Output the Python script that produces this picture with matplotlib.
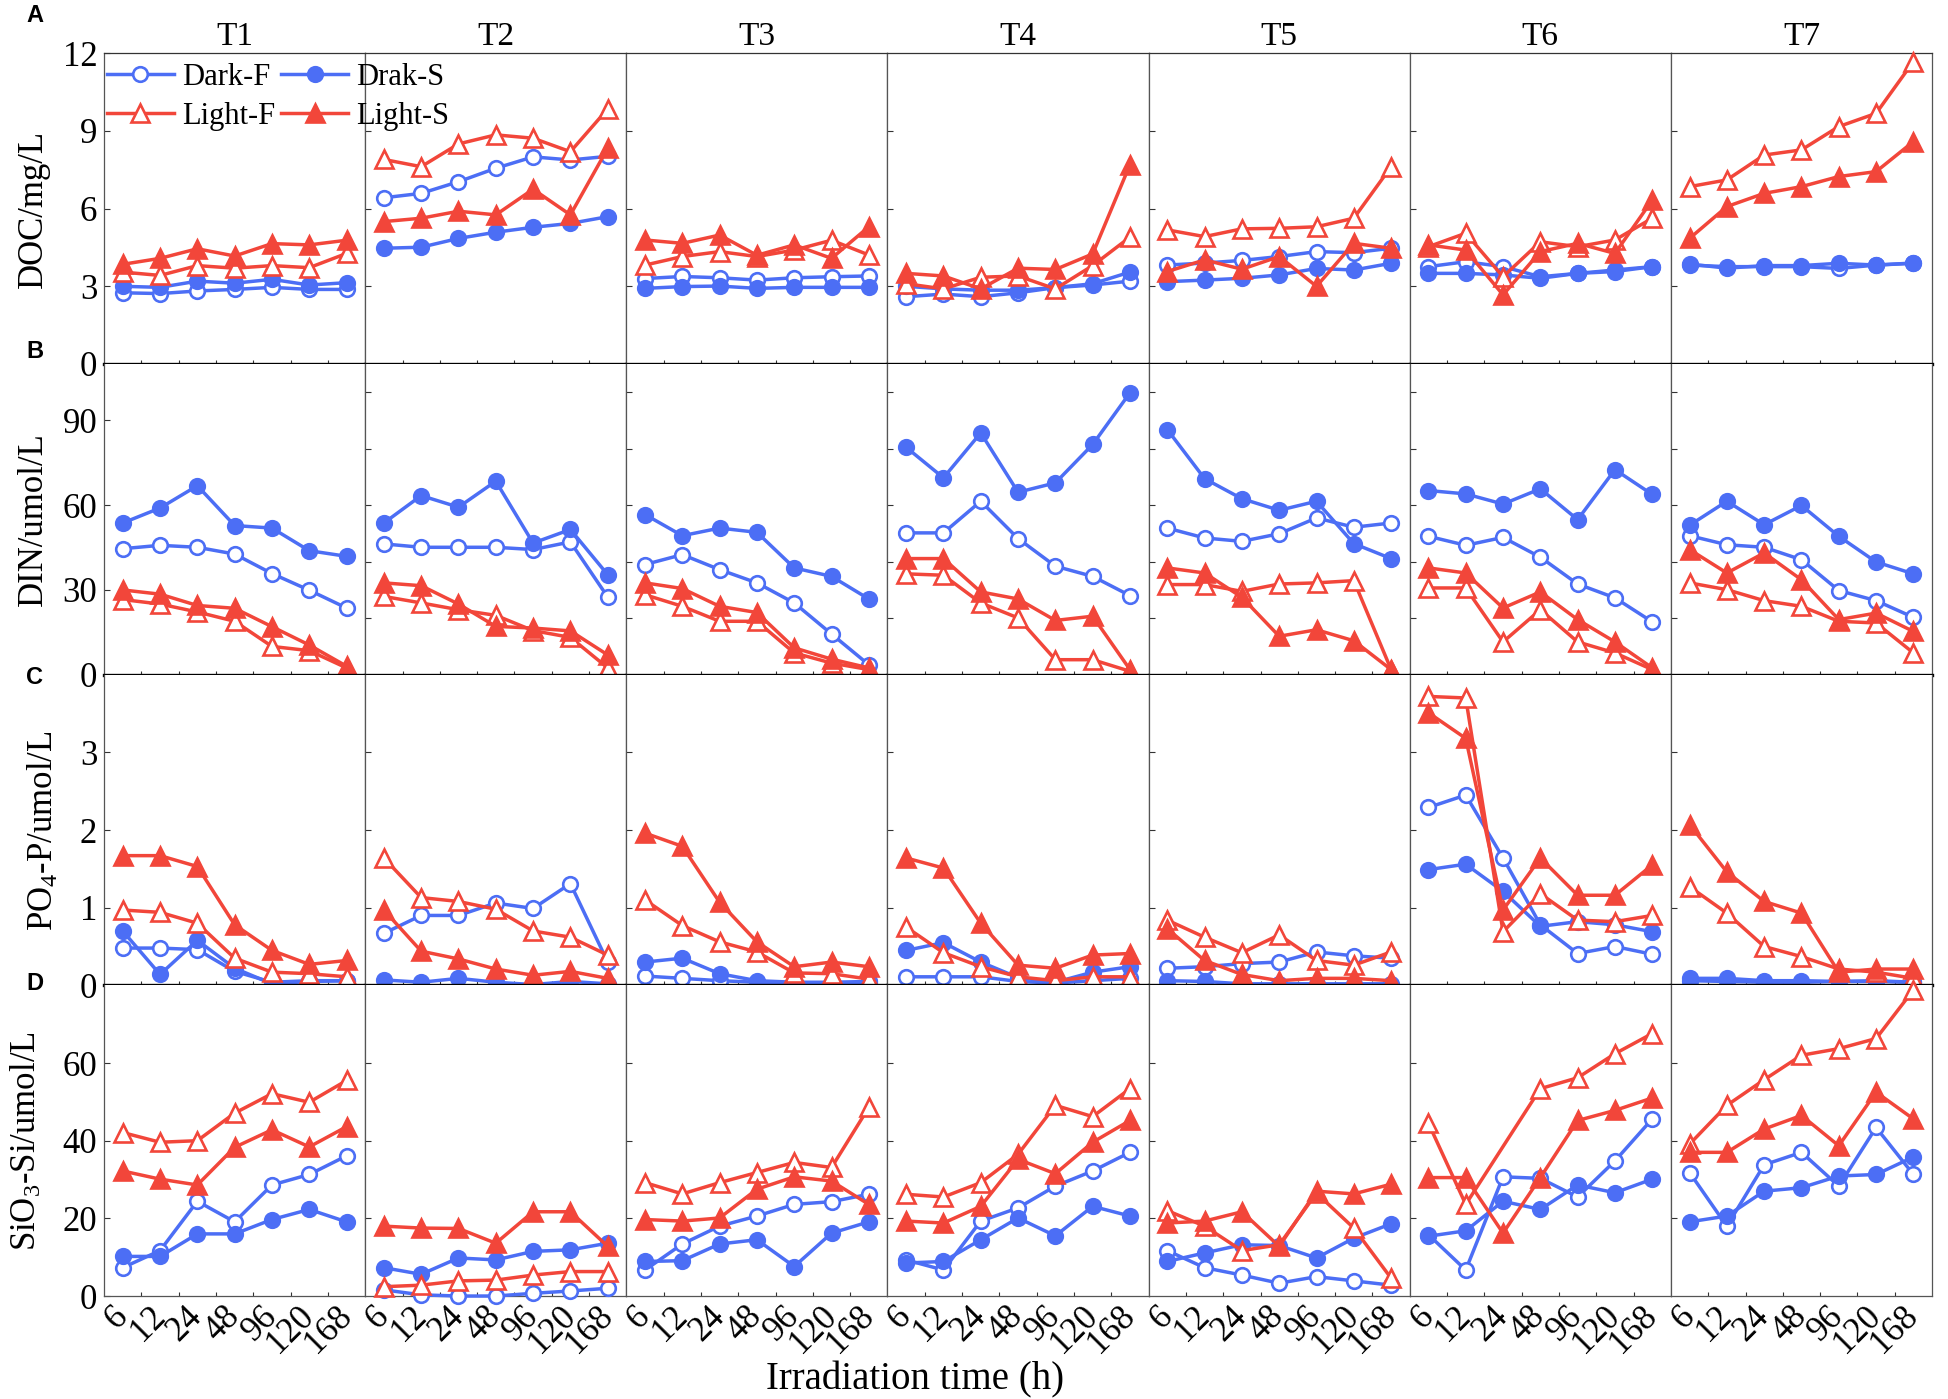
import numpy as np
import matplotlib
matplotlib.use('Agg')
import matplotlib.pyplot as plt
from matplotlib.lines import Line2D

plt.rcParams['font.family'] = ['Liberation Serif', 'DejaVu Serif']
plt.rcParams['mathtext.fontset'] = 'custom'
plt.rcParams['mathtext.rm'] = 'Liberation Serif'
plt.rcParams['mathtext.it'] = 'Liberation Serif:italic'
plt.rcParams['mathtext.default'] = 'regular'

# ---------------- data ----------------
times = ['6', '12', '24', '48', '96', '120', '168']
treatments = ['T1', 'T2', 'T3', 'T4', 'T5', 'T6', 'T7']
series_names = ['Dark-F', 'Drak-S', 'Light-F', 'Light-S']
row_letters = ['A', 'B', 'C', 'D']
row_labels = ['DOC/mg/L', 'DIN/umol/L', 'PO$_4$-P/umol/L', 'SiO$_3$-Si/umol/L']

nan = float('nan')

# DOC (mg/L), one list per treatment T1..T7
doc_dark_f = [[2.75, 2.72, 2.82, 2.88, 2.96, 2.88, 2.88],
              [6.42, 6.59, 7.04, 7.56, 8.00, 7.88, 8.02],
              [3.30, 3.38, 3.33, 3.24, 3.33, 3.37, 3.40],
              [2.60, 2.70, 2.60, 2.75, 2.95, 3.05, 3.20],
              [3.82, 3.90, 4.00, 4.15, 4.34, 4.30, 4.47],
              [3.76, 3.95, 3.76, 3.37, 3.50, 3.57, 3.76],
              [3.82, 3.76, 3.76, 3.76, 3.69, 3.82, 3.89]]
doc_dark_s = [[3.00, 2.96, 3.20, 3.12, 3.27, 3.05, 3.14],
              [4.47, 4.51, 4.85, 5.09, 5.28, 5.43, 5.69],
              [2.92, 2.99, 3.01, 2.92, 2.96, 2.96, 2.96],
              [3.00, 2.90, 2.85, 2.85, 2.95, 3.10, 3.55],
              [3.18, 3.24, 3.31, 3.44, 3.69, 3.63, 3.89],
              [3.50, 3.50, 3.44, 3.31, 3.50, 3.63, 3.76],
              [3.86, 3.70, 3.80, 3.80, 3.89, 3.82, 3.90]]
doc_light_f = [[3.55, 3.42, 3.80, 3.70, 3.80, 3.72, 4.27],
               [7.90, 7.62, 8.50, 8.85, 8.72, 8.20, 9.85],
               [3.82, 4.15, 4.34, 4.15, 4.40, 4.78, 4.21],
               [3.10, 2.90, 3.35, 3.40, 2.90, 3.80, 4.90],
               [5.18, 4.92, 5.22, 5.24, 5.30, 5.63, 7.62],
               [4.53, 5.05, 3.37, 4.72, 4.53, 4.79, 5.63],
               [6.85, 7.11, 8.07, 8.27, 9.17, 9.68, 11.68]]
doc_light_s = [[3.85, 4.08, 4.45, 4.17, 4.65, 4.60, 4.78],
               [5.50, 5.63, 5.90, 5.76, 6.75, 5.76, 8.33],
               [4.79, 4.66, 4.98, 4.20, 4.60, 4.08, 5.30],
               [3.50, 3.40, 2.90, 3.70, 3.65, 4.25, 7.70],
               [3.57, 4.02, 3.66, 4.15, 3.00, 4.66, 4.47],
               [4.60, 4.40, 2.67, 4.34, 4.66, 4.27, 6.33],
               [4.85, 6.08, 6.59, 6.85, 7.24, 7.43, 8.59]]

# DIN (umol/L)
din_dark_f = [[44.6, 45.8, 45.1, 42.7, 35.8, 29.9, 23.6],
              [46.3, 45.1, 45.1, 45.1, 44.3, 47.0, 27.5],
              [39.0, 42.5, 37.2, 32.5, 25.4, 14.4, 3.5],
              [50.2, 50.2, 61.4, 48.2, 38.4, 34.8, 28.0],
              [51.9, 48.4, 47.2, 49.9, 55.5, 52.2, 53.7],
              [49.0, 45.8, 48.6, 41.6, 32.1, 27.2, 18.7],
              [49.2, 46.0, 45.1, 40.7, 29.8, 26.2, 20.3]]
din_dark_s = [[53.7, 59.0, 66.9, 52.8, 51.9, 43.9, 41.9],
              [53.7, 63.4, 59.3, 68.5, 46.6, 51.4, 35.4],
              [56.7, 49.2, 51.9, 50.4, 37.8, 34.8, 26.8],
              [80.5, 69.7, 85.6, 64.6, 67.9, 81.5, 99.8],
              [86.8, 69.4, 62.3, 58.2, 61.4, 46.4, 41.1],
              [65.2, 64.0, 60.4, 65.8, 54.9, 72.6, 63.8],
              [52.9, 61.4, 53.1, 59.9, 49.0, 39.9, 35.7]]
din_light_f = [[26.6, 25.0, 22.2, 18.9, 10.0, 8.5, 2.4],
               [27.7, 25.4, 23.0, 21.0, 15.6, 13.2, 2.4],
               [28.3, 24.2, 18.9, 18.9, 7.7, 4.1, 1.8],
               [35.7, 35.2, 25.4, 20.1, 5.3, 5.3, 1.2],
               [31.9, 31.9, 29.5, 32.1, 32.5, 33.3, 1.8],
               [30.7, 30.7, 11.6, 23.0, 11.6, 7.7, 1.8],
               [32.5, 30.1, 26.2, 24.2, 18.9, 18.3, 7.7]]
din_light_s = [[30.0, 28.5, 24.5, 23.5, 17.0, 10.5, 3.0],
               [32.5, 31.5, 25.0, 17.1, 16.5, 15.5, 7.0],
               [32.5, 30.5, 24.2, 22.0, 9.5, 5.5, 2.4],
               [41.1, 41.1, 29.3, 26.8, 19.2, 20.7, 1.8],
               [37.8, 36.0, 27.4, 13.6, 15.9, 12.0, 1.8],
               [37.8, 36.0, 23.6, 29.3, 19.5, 11.6, 2.4],
               [44.3, 36.0, 43.1, 33.6, 19.5, 21.8, 15.3]]

# PO4-P (umol/L)
po4_dark_f = [[0.48, 0.48, 0.46, 0.18, 0.04, 0.06, 0.06],
              [0.67, 0.90, 0.90, 1.06, 0.99, 1.31, 0.30],
              [0.12, 0.09, 0.06, 0.04, 0.02, 0.02, 0.03],
              [0.11, 0.11, 0.11, 0.05, 0.03, 0.06, 0.09],
              [0.22, 0.24, 0.28, 0.30, 0.43, 0.38, 0.35],
              [2.29, 2.45, 1.64, 0.78, 0.41, 0.50, 0.40],
              [0.06, 0.05, 0.04, 0.04, 0.05, 0.05, 0.04]]
po4_dark_s = [[0.70, 0.14, 0.58, 0.22, 0.02, 0.05, 0.06],
              [0.07, 0.04, 0.09, 0.04, 0.01, 0.05, 0.02],
              [0.30, 0.35, 0.15, 0.06, 0.04, 0.04, 0.05],
              [0.45, 0.55, 0.30, 0.10, 0.04, 0.17, 0.24],
              [0.06, 0.05, 0.02, 0.02, 0.02, 0.02, 0.02],
              [1.49, 1.56, 1.21, 0.76, 0.82, 0.78, 0.69],
              [0.09, 0.09, 0.06, 0.06, 0.05, 0.06, 0.04]]
po4_light_f = [[0.97, 0.94, 0.80, 0.35, 0.17, 0.15, 0.11],
               [1.64, 1.13, 1.08, 0.98, 0.70, 0.62, 0.39],
               [1.10, 0.77, 0.56, 0.43, 0.16, 0.15, 0.08],
               [0.75, 0.42, 0.24, 0.11, 0.06, 0.11, 0.11],
               [0.84, 0.62, 0.42, 0.65, 0.32, 0.26, 0.43],
               [3.72, 3.70, 0.69, 1.18, 0.84, 0.82, 0.90],
               [1.27, 0.93, 0.50, 0.37, 0.21, 0.17, 0.09]]
po4_light_s = [[1.67, 1.67, 1.53, 0.78, 0.45, 0.27, 0.32],
               [0.97, 0.44, 0.34, 0.21, 0.13, 0.18, 0.09],
               [1.96, 1.79, 1.07, 0.56, 0.24, 0.30, 0.24],
               [1.64, 1.51, 0.80, 0.26, 0.22, 0.39, 0.41],
               [0.73, 0.32, 0.14, 0.06, 0.09, 0.09, 0.06],
               [3.51, 3.18, 0.97, 1.64, 1.16, 1.16, 1.55],
               [2.07, 1.46, 1.08, 0.93, 0.17, 0.21, 0.21]]

# SiO3-Si (umol/L)
si_dark_f = [[7.3, 11.7, 24.4, 19.1, 28.6, 31.3, 36.1],
             [1.6, 0.3, 0.0, 0.0, 0.7, 1.3, 2.0],
             [6.7, 13.4, 18.0, 20.6, 23.6, 24.3, 26.2],
             [9.3, 6.7, 19.3, 22.7, 28.3, 32.2, 37.0],
             [11.7, 7.3, 5.4, 3.3, 5.0, 3.9, 2.8],
             [15.8, 6.7, 30.7, 30.3, 25.5, 34.8, 45.6],
             [31.8, 18.0, 33.8, 37.0, 28.3, 43.4, 31.3]]
si_dark_s = [[10.2, 10.2, 16.0, 16.0, 19.7, 22.3, 19.1],
             [7.3, 5.6, 9.8, 9.3, 11.5, 11.9, 13.6],
             [8.9, 9.1, 13.4, 14.5, 7.6, 16.2, 19.1],
             [8.5, 8.9, 14.5, 20.1, 15.5, 23.1, 20.6],
             [8.9, 11.1, 13.2, 13.0, 9.8, 14.9, 18.6],
             [15.4, 16.8, 24.4, 22.3, 28.6, 26.6, 30.1],
             [19.1, 20.6, 27.0, 27.9, 30.9, 31.3, 35.8]]
si_light_f = [[42.1, 39.6, 40.0, 47.1, 52.1, 49.9, 55.5],
              [2.4, 2.8, 3.9, 4.1, 5.4, 6.3, 6.3],
              [29.2, 26.3, 29.2, 31.8, 34.4, 33.1, 48.6],
              [26.2, 25.5, 29.2, 36.5, 49.1, 46.2, 53.4],
              [22.0, 18.0, 11.7, 13.2, 26.5, 17.5, 4.6],
              [44.5, 23.6, nan, 53.4, 56.2, 62.4, 67.6],
              [39.1, 49.1, 55.7, 62.0, 63.7, 66.3, 78.8]]
si_light_s = [[32.2, 30.1, 28.6, 38.3, 42.8, 38.4, 43.6],
              [18.0, 17.5, 17.4, 13.6, 21.7, 21.7, 12.8],
              [19.7, 19.3, 20.1, 27.5, 30.7, 29.6, 23.6],
              [19.3, 18.8, 23.1, 35.2, 31.5, 39.6, 45.2],
              [18.8, 19.3, 21.7, 12.8, 27.0, 26.3, 28.8],
              [30.5, 30.5, 16.2, 30.5, 45.2, 47.8, 51.0],
              [37.0, 37.0, 43.0, 46.5, 38.7, 52.5, 45.6]]

rows_data = [
    [doc_dark_f, doc_dark_s, doc_light_f, doc_light_s],
    [din_dark_f, din_dark_s, din_light_f, din_light_s],
    [po4_dark_f, po4_dark_s, po4_light_f, po4_light_s],
    [si_dark_f, si_dark_s, si_light_f, si_light_s],
]
row_ylims = [(0, 12), (0, 110), (0, 4), (0, 80)]
row_ticks_first = [[0, 3, 6, 9, 12], [0, 30, 60, 90], [0, 1, 2, 3], [0, 20, 40, 60]]
row_ticks_other = [[3, 6, 9], [20, 40, 60, 80, 100], [1, 2, 3], [20, 40, 60]]

# ---------------- style ----------------
BLUE = '#4C6EF5'
RED = '#F2463A'
styles = [
    dict(color=BLUE, marker='o', markerfacecolor='white', markersize=10.5),
    dict(color=BLUE, marker='o', markerfacecolor=BLUE, markersize=10.5),
    dict(color=RED, marker='^', markerfacecolor='white', markersize=12.5),
    dict(color=RED, marker='^', markerfacecolor=RED, markersize=12.5),
]
LW = 2.5
MEW = 1.9

fig, axes = plt.subplots(4, 7, figsize=(19.49, 13.99), dpi=100)
fig.subplots_adjust(left=0.0534, right=0.9913, bottom=0.0736, top=0.9619,
                    wspace=0, hspace=0)

x = np.arange(len(times))
for r in range(4):
    for c in range(7):
        ax = axes[r, c]
        for s in range(4):
            y = np.array(rows_data[r][s][c], dtype=float)
            m = ~np.isnan(y)
            ax.plot(x[m], y[m], linewidth=LW, markeredgewidth=MEW,
                    clip_on=False, zorder=3 + s, **styles[s])
        ax.set_xlim(-0.5, 6.5)
        ax.set_ylim(*row_ylims[r])
        # x ticks
        ax.set_xticks(x)
        ax.set_xticks(np.arange(0.5, 6.0, 1.0), minor=True)
        ax.tick_params(axis='x', which='major', length=0, labelsize=25, pad=11)
        ax.tick_params(axis='x', which='minor', direction='in', length=3,
                       width=0.8, color='#333333')
        if r == 3:
            ax.set_xticklabels(times)
            for lab in ax.get_xticklabels():
                lab.set_rotation(45)
                lab.set_ha('right')
                lab.set_va('center')
                lab.set_rotation_mode('anchor')
        else:
            ax.set_xticklabels([])
        # y ticks
        if c == 0:
            ax.set_yticks(row_ticks_first[r])
            ax.tick_params(axis='y', direction='in', length=4, width=0.8,
                           labelsize=25, pad=5, color='#333333')
        else:
            ax.set_yticks(row_ticks_other[r])
            ax.tick_params(axis='y', direction='in', length=4, width=0.8,
                           labelleft=False, color='#333333')
        # spines
        for sp in ax.spines.values():
            sp.set_color('#555555')
            sp.set_linewidth(0.9)
        if r < 3:
            ax.spines['bottom'].set_color('black')
            ax.spines['bottom'].set_linewidth(2.4)
            ax.spines['bottom'].set_zorder(10)
        if r > 0:
            ax.spines['top'].set_visible(False)
        else:
            ax.spines['top'].set_color('#333333')
        if r == 0:
            ax.set_title(treatments[c], fontsize=24, pad=6)

# row y labels
ylab_x = [33, 33, 44, 27]
row_top_px = [53.3, 364.0, 675.0, 986.0, 1296.0]
for r in range(4):
    yc = (row_top_px[r] + row_top_px[r + 1]) / 2.0
    fig.text(ylab_x[r] / 1949, 1 - yc / 1399, row_labels[r], rotation=90,
             ha='center', va='center', fontsize=25)

# panel letters
letter_y = [16, 351, 678, 984]
for r in range(4):
    fig.text(35 / 1949, 1 - letter_y[r] / 1399, row_letters[r],
             fontfamily=['Liberation Sans', 'DejaVu Sans'], fontweight='bold',
             fontsize=17, ha='center', va='center')

# x label
fig.text(915 / 1949, 1 - 1380 / 1399, 'Irradiation time (h)', fontsize=28,
         ha='center', va='center')

# legend
handles = [Line2D([], [], linewidth=LW, markeredgewidth=MEW, **styles[s])
           for s in range(4)]
order = [0, 2, 1, 3]
fig.legend([handles[i] for i in order], [series_names[i] for i in order],
           ncol=2, loc='upper left', bbox_to_anchor=(0.0548, 0.9553),
           frameon=False, fontsize=22, handlelength=2.2, handletextpad=0.25,
           columnspacing=0.2, labelspacing=0.33, borderpad=0,
           borderaxespad=0, numpoints=1)

fig.savefig('out.png', dpi=100)
